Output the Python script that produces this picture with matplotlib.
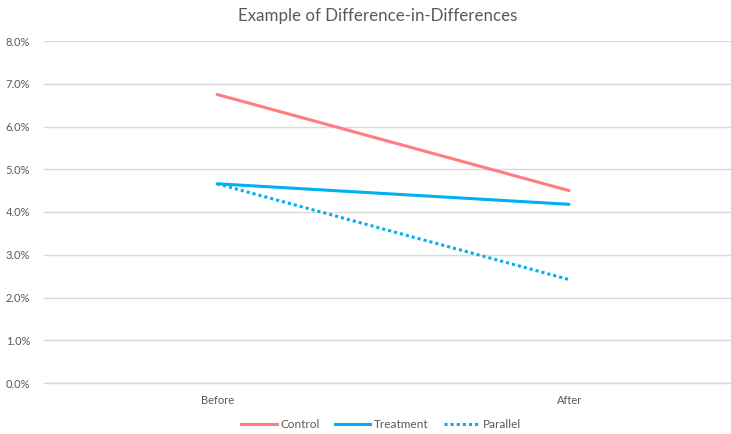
import matplotlib
matplotlib.use("Agg")
import matplotlib.pyplot as plt
from matplotlib.lines import Line2D
from matplotlib.ticker import PercentFormatter, MultipleLocator

plt.rcParams['font.family'] = ['Lato', 'DejaVu Sans']

# Data (percent)
periods = ["Before", "After"]
control = [6.75, 4.50]
treatment = [4.66, 4.18]
parallel = [4.66, 2.42]

CONTROL_C = "#FF7C80"
TREAT_C = "#00B0F0"
TEXT_C = "#595959"
GRID_C = "#D9D9D9"

W, H = 731, 434
fig = plt.figure(figsize=(W / 100, H / 100), dpi=100)
ax = fig.add_axes([44 / W, (H - 383) / H, 1 - 44 / W, (383 - 41) / H])

x = list(range(len(periods)))
lw = 2.2
ax.plot(x, control, color=CONTROL_C, lw=lw, solid_capstyle="round", zorder=3)
ax.plot(x, treatment, color=TREAT_C, lw=lw, solid_capstyle="round", zorder=3)
ax.plot(x, parallel, color=TREAT_C, lw=lw, linestyle=(0, (1, 1)),
        dash_capstyle="butt", zorder=3)

ax.set_xlim(-0.492, 1.46)
ax.set_ylim(0, 8)
ax.yaxis.set_major_locator(MultipleLocator(1))
ax.yaxis.set_major_formatter(PercentFormatter(decimals=1))
ax.set_xticks(x)
ax.set_xticklabels(periods)

ax.grid(axis="y", color=GRID_C, lw=1.0)
ax.set_axisbelow(True)
for s in ["top", "right", "left"]:
    ax.spines[s].set_visible(False)
ax.spines["bottom"].set_color(GRID_C)
ax.spines["bottom"].set_linewidth(1.0)
ax.tick_params(axis="both", length=0, colors=TEXT_C, labelsize=8)
ax.tick_params(axis="y", pad=10)
ax.tick_params(axis="x", pad=9)

fig.text(378 / W, 1 - 16 / H, "Example of Difference-in-Differences",
         ha="center", va="center", fontsize=12.2, color=TEXT_C)

handles = [
    Line2D([], [], color=CONTROL_C, lw=lw),
    Line2D([], [], color=TREAT_C, lw=lw),
    Line2D([], [], color=TREAT_C, lw=lw, linestyle=(0, (1, 1))),
]
fig.legend(handles, ["Control", "Treatment", "Parallel"], loc="center",
           bbox_to_anchor=(381 / W, 1 - 425 / H), ncol=3, frameon=False,
           fontsize=8.5, labelcolor=TEXT_C, handlelength=3.0,
           handletextpad=0.3, columnspacing=1.3)

fig.savefig("out.png", dpi=100)
